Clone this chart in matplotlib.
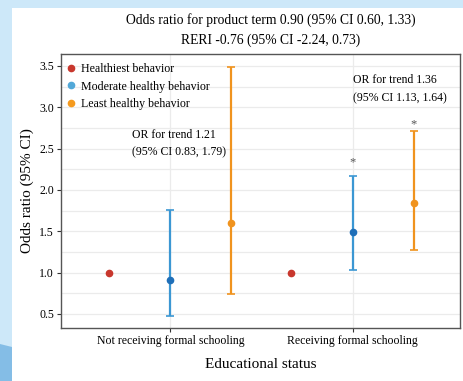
import matplotlib
matplotlib.use('Agg')
import matplotlib.pyplot as plt
from matplotlib.patches import Rectangle, Polygon

plt.rcParams['font.family'] = ['Liberation Serif', 'DejaVu Serif']

# dados
grupos = ['Not receiving formal schooling', 'Receiving formal schooling']
comportamentos = ['Healthiest behavior', 'Moderate healthy behavior', 'Least healthy behavior']
or_valores = [[1.00, 0.91, 1.60], [1.00, 1.49, 1.84]]
ic_inf = [[None, 0.47, 0.74], [None, 1.03, 1.27]]
ic_sup = [[None, 1.76, 3.49], [None, 2.17, 2.71]]
signif = [[False, False, False], [False, True, True]]
tendencia = ['OR for trend 1.21\n(95% CI 0.83, 1.79)', 'OR for trend 1.36\n(95% CI 1.13, 1.64)']
titulo = 'Odds ratio for product term 0.90 (95% CI 0.60, 1.33)\nRERI -0.76 (95% CI -2.24, 0.73)'

cores_ponto = ['#c8372d', '#1f6fb8', '#f0931e']
cores_barra = ['#c8372d', '#3b97d3', '#f0931e']
cores_leg = ['#c8372d', '#52a8d8', '#f59a1e']
desloc = [-0.335, 0.0, 0.335]
# distância do asterisco acima do limite superior (moderado, menos saudável)
dist_ast = [0, 0.16, 0.09]

fig = plt.figure(figsize=(4.64, 3.81), dpi=100, facecolor='#cde8f9')
fundo = Rectangle((12 / 464, 0), 1, 1 - 8 / 381, transform=fig.transFigure,
                  facecolor='white', edgecolor='none', zorder=-10)
fig.patches.append(fundo)
onda = Polygon([(0, 0), (0, 1 - 344 / 381), (12 / 464, 1 - 347 / 381), (12 / 464, 0)],
               closed=True, transform=fig.transFigure, facecolor='#84bde6',
               edgecolor='none', zorder=-9)
fig.patches.append(onda)
ax = fig.add_axes([61 / 464, 1 - 328 / 381, 399 / 464, 274 / 381])

for g in range(len(grupos)):
    for k in range(len(comportamentos)):
        x = g + 1 + desloc[k]
        y = or_valores[g][k]
        if ic_inf[g][k] is not None:
            ax.errorbar(x, y, yerr=[[y - ic_inf[g][k]], [ic_sup[g][k] - y]], fmt='none',
                        ecolor=cores_barra[k], elinewidth=1.6, capsize=3, capthick=1.2, zorder=3)
        ax.plot(x, y, 'o', color=cores_ponto[k], markersize=4.5, zorder=4)
        if signif[g][k]:
            ax.text(x, ic_sup[g][k] + dist_ast[k], '*', ha='center', va='center',
                    fontsize=9, color='#555555')

# legenda manual
for k, nome in enumerate(comportamentos):
    ax.plot([], [], 'o', color=cores_leg[k], markersize=4.5, label=nome)
leg = ax.legend(loc='upper left', frameon=False, fontsize=8.6, handlelength=0.8,
                handletextpad=0.45, labelspacing=0.48, borderaxespad=0.0,
                bbox_to_anchor=(0.0, 0.985))

ax.text(1 - 0.21, 2.56, tendencia[0], ha='left', va='center', fontsize=8.5, linespacing=1.6)
ax.text(2.0, 3.22, tendencia[1], ha='left', va='center', fontsize=8.5, linespacing=1.6)

ax.set_xlim(0.40, 2.59)
ax.set_ylim(0.33, 3.645)
ax.set_xticks([1, 2])
ax.set_xticklabels(grupos, fontsize=8.5)
ax.set_yticks([0.5, 1.0, 1.5, 2.0, 2.5, 3.0, 3.5])
ax.set_yticklabels(['0.5', '1.0', '1.5', '2.0', '2.5', '3.0', '3.5'], fontsize=8.5)
ax.set_yticks([0.75, 1.25, 1.75, 2.25, 2.75, 3.25], minor=True)
ax.tick_params(axis='y', which='minor', length=0)
ax.tick_params(axis='both', which='major', length=3, color='#333333', pad=2)
ax.grid(True, which='both', color='#ebebeb', linewidth=0.9, zorder=0)
ax.set_axisbelow(True)
for s in ax.spines.values():
    s.set_color('#555555')
    s.set_linewidth(1.0)

ax.set_xlabel('Educational status', fontsize=11, labelpad=8)
ax.set_ylabel('Odds ratio (95% CI)', fontsize=11, labelpad=4)
fig.text(271 / 464, 1 - 30 / 381, titulo, ha='center', va='center', fontsize=9.8, linespacing=1.6)

plt.savefig('out.png', dpi=100, facecolor=fig.get_facecolor())
